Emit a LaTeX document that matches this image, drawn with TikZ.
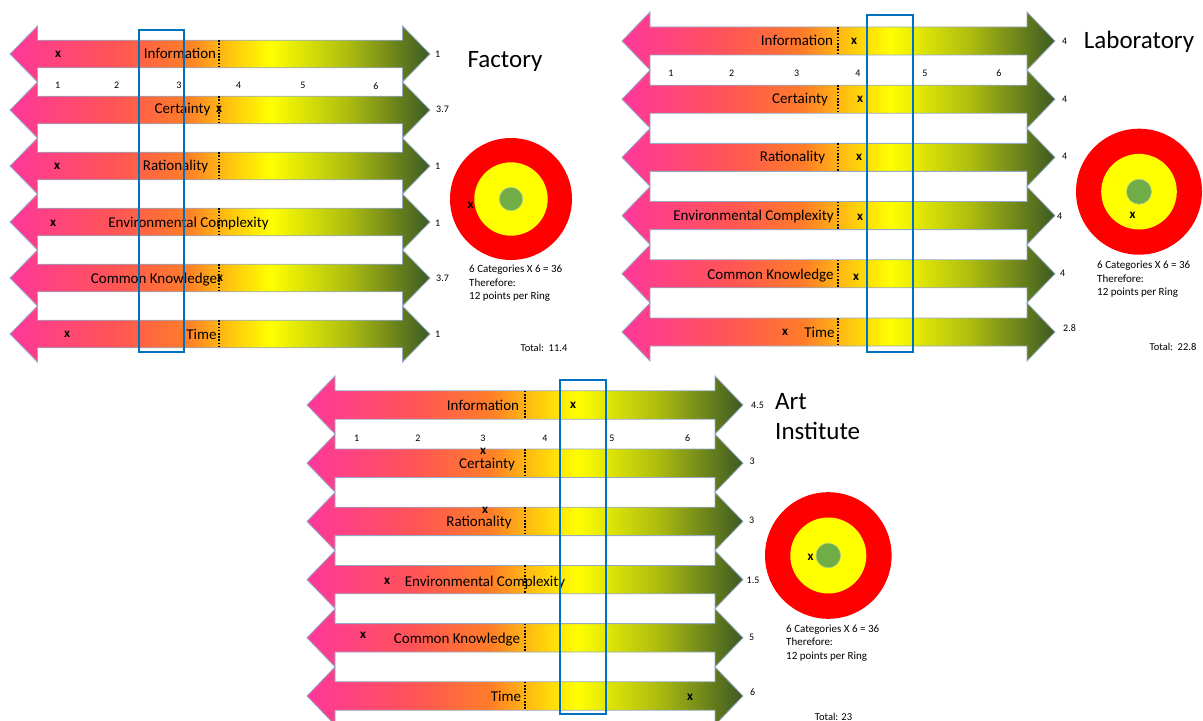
\documentclass[tikz,border=0pt]{standalone}
\usepackage{fontspec}
\setmainfont{Carlito}

\definecolor{apink}{RGB}{255,55,155}
\definecolor{acoral}{RGB}{255,85,85}
\definecolor{aorange}{RGB}{255,125,40}
\definecolor{agold}{RGB}{255,195,15}
\definecolor{ayellow}{RGB}{255,255,0}
\definecolor{aolive}{RGB}{175,190,15}
\definecolor{agreen}{RGB}{60,90,35}
\definecolor{edgeblue}{RGB}{150,170,200}
\definecolor{bandblue}{RGB}{0,112,192}
\definecolor{ringred}{RGB}{255,0,0}
\definecolor{ringyellow}{RGB}{255,255,0}
\definecolor{bullgreen}{RGB}{112,173,71}

% pink -> orange -> yellow -> dark green along each scale arrow
\pgfdeclarehorizontalshading{scaleshade}{100bp}{%
  color(0bp)=(apink); color(25bp)=(apink); color(37.5bp)=(acoral);
  color(46bp)=(aorange); color(51bp)=(agold); color(56bp)=(ayellow);
  color(65bp)=(aolive); color(75bp)=(agreen); color(100bp)=(agreen)}

% double-headed scale arrow: name, left tip, right tip, centre y,
% head length, shaft half height, head half height
\newcommand{\bandarrow}[7]{%
  \shade[arrowline] (#2,#4) -- ({#2+#5},{#4-#7}) -- ({#2+#5},{#4-#6})
    -- ({#3-#5},{#4-#6}) -- ({#3-#5},{#4-#7}) -- (#3,#4)
    -- ({#3-#5},{#4+#7}) -- ({#3-#5},{#4+#6}) -- ({#2+#5},{#4+#6})
    -- ({#2+#5},{#4+#7}) -- cycle;
  \coordinate (#1) at ({(#2+#3)/2},#4);}

% dotted midpoint marker on a shaft: x, centre y, shaft half height
\newcommand{\midmark}[3]{%
  \draw[divider] (#1,{#2-#3}) -- (#1,{#2+#3});}

% bull's-eye target: prefix, centre x, centre y, radii
\newcommand{\target}[6]{%
  \fill[ringred] (#2,#3) circle[radius=#4];
  \fill[ringyellow] (#2,#3) circle[radius=#5];
  \filldraw[fill=bullgreen, draw=bullgreen!60!white, line width=0.6bp] (#2,#3) circle[radius=#6];
  \coordinate (#1) at (#2,#3);}

\begin{document}
\begin{tikzpicture}[x=1bp,y=-1bp,
  arrowline/.style={draw=edgeblue, line width=0.8bp, shading=scaleshade},
  lbl/.style={inner sep=0pt, anchor=base, yshift=-5bp, font=\fontsize{15bp}{18bp}\selectfont},
  xmk/.style={inner sep=0pt, font=\fontsize{13bp}{15bp}\selectfont\bfseries},
  tick/.style={inner sep=0pt, font=\fontsize{10bp}{12bp}\selectfont},
  val/.style={inner sep=0pt, anchor=west, font=\fontsize{10bp}{12bp}\selectfont},
  ttl/.style={inner sep=0pt, font=\fontsize{25bp}{30bp}\selectfont},
  note/.style={inner sep=0pt, anchor=west, align=left, font=\fontsize{11bp}{13.5bp}\selectfont},
  total/.style={inner sep=0pt, font=\fontsize{10.5bp}{12bp}\selectfont},
  band/.style={draw=bandblue, line width=2.6bp},
  divider/.style={draw=black, line width=1.6bp, dash pattern=on 1.6bp off 1.6bp},
]
\useasboundingbox (0,0) rectangle (1203,721);

% ---------------- Factory ----------------
\foreach \i in {0,...,5}{
  \pgfmathsetmacro\yc{54+56*\i}
  \bandarrow{fa\i}{10}{430}{\yc}{27.5}{13.8}{28}
  \midmark{219}{\yc}{13.8}
}
\foreach \n/\x in {1/57.7,2/116.7,3/179,4/238.7,5/303,6/376}
  \node[tick] (fat\n) at (\x,85.7) {\n};
\node[lbl] (fa-info) at (180,54) {Information};
\node[lbl] (fa-cert) at (182.5,109) {Certainty};
\node[lbl] (fa-rat) at (175.5,166) {Rationality};
\node[lbl] (fa-env) at (188.5,223) {Environmental Complexity};
\node[lbl] (fa-ck) at (154,278) {Common Knowledge};
\node[lbl] (fa-time) at (201.5,334) {Time};
\node[xmk] (fa-x1) at (58,54) {x};
\node[xmk] (fa-x2) at (219,109) {x};
\node[xmk] (fa-x3) at (57,166) {x};
\node[xmk] (fa-x4) at (53,223) {x};
\node[xmk] (fa-x5) at (220,278) {x};
\node[xmk] (fa-x6) at (67,334) {x};
\node[val] (fa-v1) at (435,54) {1};
\node[val] (fa-v2) at (436,109) {3.7};
\node[val] (fa-v3) at (435,166) {1};
\node[val] (fa-v4) at (435,223) {1};
\node[val] (fa-v5) at (436,278) {3.7};
\node[val] (fa-v6) at (435,334) {1};
\draw[band] (139,30) rectangle (184,352);
\node[ttl] (fa-title) at (505,61) {Factory};
\target{fa-tgt}{511}{199}{61}{36.7}{11.7}
\node[xmk] (fa-tx) at (470.7,205) {x};
\node[note] (fa-note) at (469,283.3) {6 Categories X 6 = 36\\Therefore:\\12 points per Ring};
\node[total] (fa-total) at (544,348) {Total:\ \ 11.4};

% ---------------- Laboratory ----------------
\foreach \i in {0,...,5}{
  \pgfmathsetmacro\yc{41+58.2*\i}
  \bandarrow{la\i}{622}{1055}{\yc}{28}{14}{29}
  \midmark{838}{\yc}{14}
}
\foreach \n/\x in {1/671,2/731.7,3/796.7,4/858,5/925,6/999}
  \node[tick] (lat\n) at (\x,73) {\n};
\node[lbl] (la-info) at (797,41) {Information};
\node[lbl] (la-cert) at (800,99) {Certainty};
\node[lbl] (la-rat) at (792.5,157) {Rationality};
\node[lbl] (la-env) at (753.5,216) {Environmental Complexity};
\node[lbl] (la-ck) at (770.5,274) {Common Knowledge};
\node[lbl] (la-time) at (819.5,332) {Time};
\node[xmk] (la-x1) at (854,41) {x};
\node[xmk] (la-x2) at (860,99) {x};
\node[xmk] (la-x3) at (859,157) {x};
\node[xmk] (la-x4) at (860,217) {x};
\node[xmk] (la-x5) at (856,277) {x};
\node[xmk] (la-x6) at (785,332) {x};
\node[val] (la-v1) at (1062,41.7) {4};
\node[val] (la-v2) at (1062,99) {4};
\node[val] (la-v3) at (1062,156.7) {4};
\node[val] (la-v4) at (1057,216.7) {4};
\node[val] (la-v5) at (1060,273) {4};
\node[val] (la-v6) at (1063,328) {2.8};
\draw[band] (867,15) rectangle (913,352);
\node[ttl] (la-title) at (1139,42) {Laboratory};
\target{la-tgt}{1139}{191.7}{63}{37.8}{12.5}
\node[xmk] (la-tx) at (1132.7,215) {x};
\node[note] (la-note) at (1097,279.3) {6 Categories X 6 = 36\\Therefore:\\12 points per Ring};
\node[total] (la-total) at (1173,347) {Total:\ \ 22.8};

% ---------------- Art Institute ----------------
\foreach \i in {0,...,5}{
  \pgfmathsetmacro\yc{405+58.2*\i}
  \bandarrow{ai\i}{307}{743}{\yc}{28}{14.2}{29}
  \midmark{525}{\yc}{14.2}
}
\foreach \n/\x in {1/356.7,2/418,3/483,4/545,5/612,6/687.7}
  \node[tick] (ait\n) at (\x,438) {\n};
\node[lbl] (ai-info) at (483,405) {Information};
\node[lbl] (ai-cert) at (487,463) {Certainty};
\node[lbl] (ai-rat) at (479,521.5) {Rationality};
\node[lbl] (ai-env) at (485,581) {Environmental Complexity};
\node[lbl] (ai-ck) at (457,638) {Common Knowledge};
\node[lbl] (ai-time) at (506,696) {Time};
\node[xmk] (ai-x1) at (573,405) {x};
\node[xmk] (ai-x2) at (483,451) {x};
\node[xmk] (ai-x3) at (485,510.5) {x};
\node[xmk] (ai-x4) at (387,581) {x};
\node[xmk] (ai-x5) at (363,635) {x};
\node[xmk] (ai-x6) at (690,697) {x};
\node[val] (ai-v1) at (751,405) {4.5};
\node[val] (ai-v2) at (749.5,461.7) {3};
\node[val] (ai-v3) at (749,520) {3};
\node[val] (ai-v4) at (746.5,580.7) {1.5};
\node[val] (ai-v5) at (749,637) {5};
\node[val] (ai-v6) at (750,692) {6};
\draw[band] (560,380) rectangle (606,714);
\node[ttl, anchor=west, align=left] (ai-title) at (775,417) {Art\\Institute};
\target{ai-tgt}{828.3}{555.5}{63.3}{38}{12.3}
\node[xmk] (ai-tx) at (810.7,557) {x};
\node[note] (ai-note) at (786,642.7) {6 Categories X 6 = 36\\Therefore:\\12 points per Ring};
\node[total] (ai-total) at (833.5,716.7) {Total: 23};
\end{tikzpicture}
\end{document}
